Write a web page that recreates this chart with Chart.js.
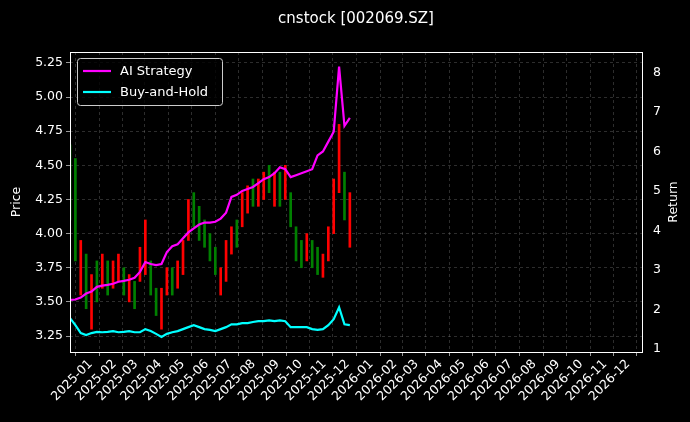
<!DOCTYPE html>
<html><head><meta charset="utf-8">
<script src="https://cdn.jsdelivr.net/npm/chart.js@4"></script>
<style>html,body{margin:0;background:#000;}#w{width:690px;height:422px;}</style>
</head><body><div id="w"><canvas id="c"></canvas></div>
<script>
const dates=["2024-12-09","2024-12-16","2024-12-23","2024-12-30","2025-01-06","2025-01-13","2025-01-20","2025-01-27","2025-02-03","2025-02-10","2025-02-17","2025-02-24","2025-03-03","2025-03-10","2025-03-17","2025-03-24","2025-03-31","2025-04-07","2025-04-14","2025-04-21","2025-04-28","2025-05-05","2025-05-12","2025-05-19","2025-05-26","2025-06-02","2025-06-09","2025-06-16","2025-06-23","2025-06-30","2025-07-07","2025-07-14","2025-07-21","2025-07-28","2025-08-04","2025-08-11","2025-08-18","2025-08-25","2025-09-01","2025-09-08","2025-09-15","2025-09-22","2025-09-29","2025-10-06","2025-10-13","2025-10-20","2025-10-27","2025-11-03","2025-11-10","2025-11-17","2025-11-24","2025-12-01","2025-12-08"];
const lows=[4.1,3.8,3.55,3.45,3.3,3.5,3.6,3.55,3.6,3.65,3.55,3.5,3.45,3.65,3.7,3.55,3.4,3.3,3.55,3.55,3.6,3.7,3.95,4.05,3.95,3.9,3.8,3.7,3.55,3.65,3.85,3.9,4.05,4.15,4.2,4.2,4.25,4.3,4.2,4.2,4.25,4.05,3.8,3.75,3.8,3.75,3.7,3.68,3.8,4.0,4.3,4.1,3.9];
const highs=[4.65,4.55,3.95,3.85,3.7,3.8,3.85,3.8,3.8,3.85,3.75,3.7,3.65,3.9,4.1,3.8,3.6,3.6,3.75,3.75,3.8,3.95,4.25,4.3,4.2,4.1,4.0,3.9,3.75,3.95,4.05,4.1,4.3,4.35,4.4,4.4,4.45,4.5,4.45,4.45,4.5,4.3,4.05,3.95,4.0,3.95,3.9,3.85,4.05,4.4,4.8,4.45,4.3];
const upDays=[0,0,1,0,1,0,1,0,1,1,0,1,0,1,1,0,0,1,1,0,1,1,1,0,0,0,0,0,1,1,1,0,1,1,0,1,1,0,1,0,1,0,0,0,1,0,0,1,1,1,1,0,1];
const aiStrategy=[2.24,2.25,2.3,2.4,2.45,2.57,2.6,2.62,2.65,2.7,2.72,2.75,2.8,2.95,3.2,3.15,3.12,3.15,3.45,3.6,3.65,3.8,3.95,4.05,4.15,4.2,4.2,4.22,4.3,4.45,4.85,4.9,5.0,5.05,5.1,5.2,5.3,5.35,5.45,5.6,5.55,5.35,5.4,5.45,5.5,5.55,5.9,6.0,6.25,6.5,8.15,6.65,6.85];
const buyHold=[1.78,1.6,1.4,1.35,1.4,1.43,1.42,1.43,1.45,1.42,1.43,1.45,1.42,1.42,1.5,1.45,1.38,1.3,1.38,1.42,1.45,1.5,1.55,1.6,1.55,1.5,1.48,1.45,1.5,1.55,1.62,1.62,1.65,1.65,1.68,1.7,1.7,1.72,1.7,1.72,1.7,1.55,1.55,1.55,1.55,1.5,1.48,1.5,1.6,1.75,2.05,1.62,1.6];
const monthTicks=["2025-01","2025-02","2025-03","2025-04","2025-05","2025-06","2025-07","2025-08","2025-09","2025-10","2025-11","2025-12","2026-01","2026-02","2026-03","2026-04","2026-05","2026-06","2026-07","2026-08","2026-09","2026-10","2026-11","2026-12"];
const priceTicks=[3.25,3.5,3.75,4.0,4.25,4.5,4.75,5.0,5.25];
const returnTicks=[1,2,3,4,5,6,7,8];

const base=Date.UTC(2025,0,1);
const dayOf=s=>{const p=s.split('-').map(Number);return (Date.UTC(p[0],p[1]-1,p[2]||1)-base)/864e5;};
const xs=dates.map(dayOf);
const tickDays=monthTicks.map(dayOf);
const F='"DejaVu Sans"';
const grid={color:'rgba(150,150,150,0.5)',lineWidth:0.6,tickColor:'#fff',tickLength:4};
const brd={display:false,dash:[3,3]};

const decor={id:'decor',afterDraw(ch){const c=ch.ctx,a=ch.chartArea;c.save();
 const x=a.left+7,y=a.top+6;c.fillStyle='rgba(0,0,0,0.8)';c.strokeStyle='#ccc';c.lineWidth=1;
 c.beginPath();c.roundRect(x+.5,y+.5,145,47,3);c.fill();c.stroke();
 const items=[['AI Strategy','#ff00ff'],['Buy-and-Hold','#00ffff']];
 items.forEach((it,i)=>{const yy=y+13+i*21;c.strokeStyle=it[1];c.lineWidth=2.2;c.beginPath();c.moveTo(x+6,yy);c.lineTo(x+34,yy);c.stroke();
  c.fillStyle='#fff';c.font='13px '+F;c.textBaseline='middle';c.textAlign='left';c.fillText(it[0],x+43,yy+1);});
 c.fillStyle='#fff';c.font='15px '+F;c.textAlign='center';c.textBaseline='middle';c.fillText('cnstock [002069.SZ]',356,19);
 c.font='12.5px '+F;
 c.save();c.translate(17,(a.top+a.bottom)/2);c.rotate(-Math.PI/2);c.fillText('Price',0,0);c.restore();
 c.save();c.translate(674,(a.top+a.bottom)/2);c.rotate(-Math.PI/2);c.fillText('Return',0,0);c.restore();
 const sx=ch.scales.x;c.font='12.5px '+F;c.textAlign='right';c.textBaseline='middle';
 tickDays.forEach((v,i)=>{const px=sx.getPixelForValue(v);c.save();c.translate(px+3,a.bottom+10);c.rotate(-Math.PI/4);c.fillText(monthTicks[i],0,0);c.restore();});
 c.strokeStyle='#fff';c.lineWidth=1;c.strokeRect(a.left+.5,a.top+.5,a.right-a.left,a.bottom-a.top);c.restore();}};

new Chart(document.getElementById('c'),{
 data:{datasets:[
  {type:'line',label:'AI Strategy',data:xs.map((x,i)=>({x,y:aiStrategy[i]})),yAxisID:'y2',borderColor:'#ff00ff',borderWidth:2.2,pointRadius:0,tension:0,order:1},
  {type:'line',label:'Buy-and-Hold',data:xs.map((x,i)=>({x,y:buyHold[i]})),yAxisID:'y2',borderColor:'#00ffff',borderWidth:2.2,pointRadius:0,tension:0,order:2},
  {type:'bar',label:'Price',data:xs.map((x,i)=>({x,y:[lows[i],highs[i]]})),yAxisID:'y',backgroundColor:upDays.map(u=>u?'#ff0000':'#008000'),barThickness:2,maxBarThickness:2,grouped:false,order:3}
 ]},
 options:{responsive:true,maintainAspectRatio:false,animation:false,
  layout:{padding:{top:52,left:0,right:0,bottom:0}},
  plugins:{legend:{display:false},tooltip:{enabled:false}},
  scales:{
   x:{type:'linear',offset:false,min:-23,max:721,grid:grid,border:brd,
    afterBuildTicks:s=>{s.ticks=tickDays.map(v=>({value:v}));},
    afterFit:s=>{s.height=70;},
    ticks:{display:false}},
   y:{position:'left',min:3.133,max:5.33,grid:grid,border:brd,
    afterBuildTicks:s=>{s.ticks=priceTicks.map(v=>({value:v}));},
    afterFit:s=>{s.width=70;},
    ticks:{color:'#fff',font:{family:F,size:12.5},callback:v=>v.toFixed(2)}},
   y2:{position:'right',min:0.92,max:8.52,grid:{display:false,drawOnChartArea:false},border:{display:false},
    afterBuildTicks:s=>{s.ticks=returnTicks.map(v=>({value:v}));},
    afterFit:s=>{s.width=48;},
    ticks:{color:'#fff',font:{family:F,size:12.5}}}
  }},
 plugins:[decor]
});
</script></body></html>
